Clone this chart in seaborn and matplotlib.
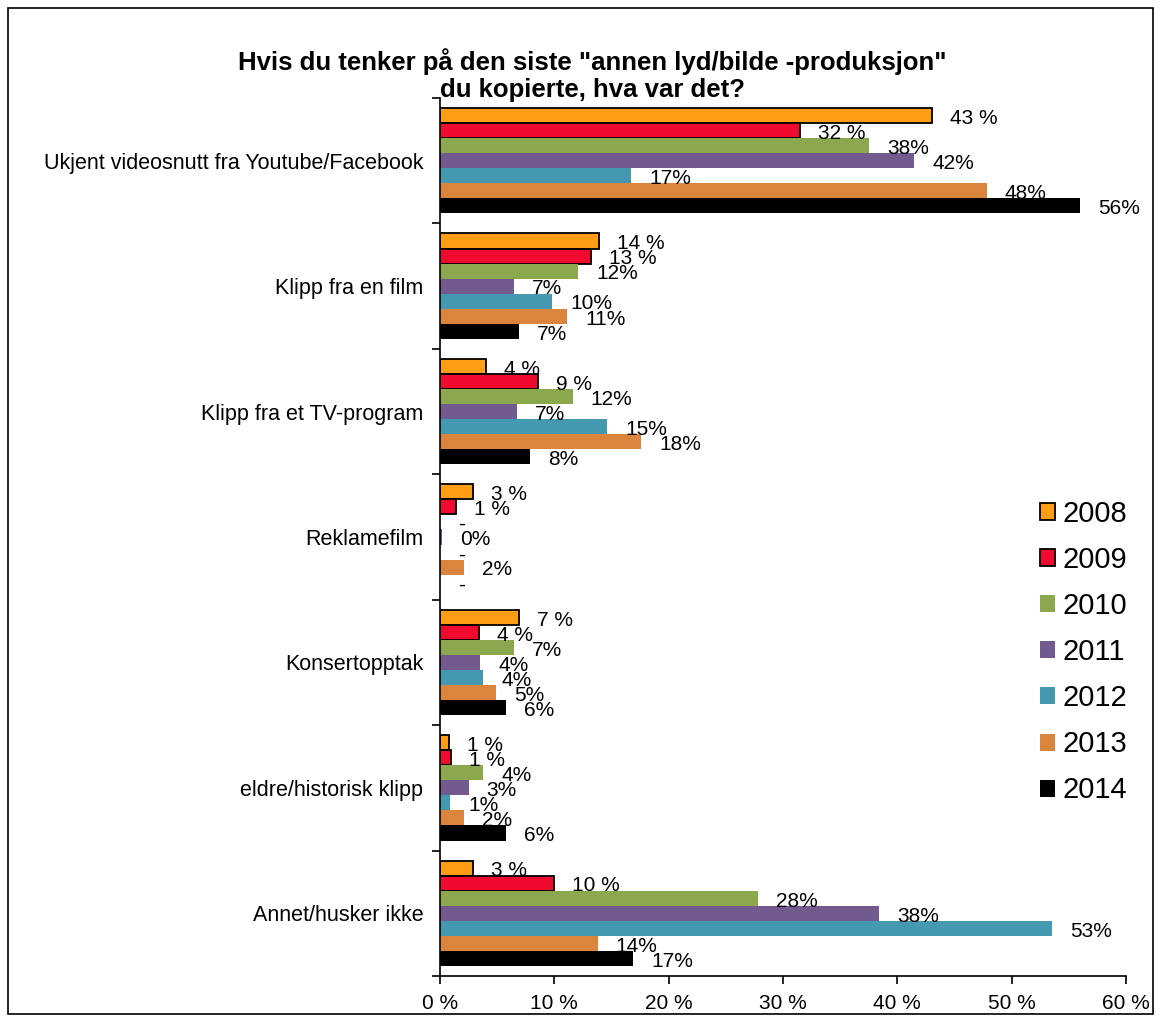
import numpy as np
import pandas as pd
import matplotlib
matplotlib.use("Agg")
import matplotlib.pyplot as plt
import seaborn as sns
from matplotlib.patches import Rectangle, Patch

# ---------------- data ----------------
categories = [
    "Ukjent videosnutt fra Youtube/Facebook",
    "Klipp fra en film",
    "Klipp fra et TV-program",
    "Reklamefilm",
    "Konsertopptak",
    "eldre/historisk klipp",
    "Annet/husker ikke",
]
years = ["2008", "2009", "2010", "2011", "2012", "2013", "2014"]

v2008 = [43.0, 13.9, 4.0, 2.9, 6.9, 0.8, 2.9]
v2009 = [31.5, 13.2, 8.6, 1.4, 3.4, 1.0, 10.0]
v2010 = [37.5, 12.1, 11.6, None, 6.5, 3.8, 27.8]
v2011 = [41.5, 6.5, 6.7, 0.2, 3.5, 2.5, 38.4]
v2012 = [16.7, 9.8, 14.6, None, 3.8, 0.9, 53.5]
v2013 = [47.8, 11.1, 17.6, 2.1, 4.9, 2.1, 13.8]
v2014 = [56.0, 6.9, 7.9, None, 5.8, 5.8, 16.9]

lab2008 = ["43 %", "14 %", "4 %", "3 %", "7 %", "1 %", "3 %"]
lab2009 = ["32 %", "13 %", "9 %", "1 %", "4 %", "1 %", "10 %"]
lab2010 = ["38%", "12%", "12%", "-", "7%", "4%", "28%"]
lab2011 = ["42%", "7%", "7%", "0%", "4%", "3%", "38%"]
lab2012 = ["17%", "10%", "15%", "-", "4%", "1%", "53%"]
lab2013 = ["48%", "11%", "18%", "2%", "5%", "2%", "14%"]
lab2014 = ["56%", "7%", "8%", "-", "6%", "6%", "17%"]

colors = ["#FF9E14", "#F00A30", "#8BA84E", "#735A8E", "#4499B0", "#DB843D", "#000000"]

xticks = [0, 10, 20, 30, 40, 50, 60]
xticklabels = ["0 %", "10 %", "20 %", "30 %", "40 %", "50 %", "60 %"]

title = 'Hvis du tenker på den siste "annen lyd/bilde -produksjon"\ndu kopierte, hva var det?'

# ---------------- build table ----------------
values = [v2008, v2009, v2010, v2011, v2012, v2013, v2014]
labels = [lab2008, lab2009, lab2010, lab2011, lab2012, lab2013, lab2014]
rows = []
for y, vals in zip(years, values):
    for c, v in zip(categories, vals):
        rows.append({"category": c, "year": y, "value": np.nan if v is None else v})
df = pd.DataFrame(rows)
df["plotvalue"] = df["value"].fillna(0.0)

# ---------------- style ----------------
sns.set_theme(style="white")
plt.rcParams["font.family"] = ["Liberation Sans", "DejaVu Sans"]
for k in ["text.color", "axes.labelcolor", "xtick.color", "ytick.color"]:
    plt.rcParams[k] = "black"

W, H = 1161, 1019
fig = plt.figure(figsize=(W / 100, H / 100), dpi=100)
ax = fig.add_axes([440 / W, 1 - 976 / H, (1126 - 440) / W, (976 - 98) / H])

sns.barplot(
    data=df, x="plotvalue", y="category", hue="year",
    order=categories, hue_order=years,
    palette=dict(zip(years, colors)), saturation=1,
    width=0.84, orient="h", errorbar=None, legend=False, ax=ax,
)

# edges for 2008 / 2009
for i, cont in enumerate(ax.containers):
    for p in cont.patches:
        p.set_linewidth(0)
        if i < 2:
            p.set_edgecolor("black")
            p.set_linewidth(1.3)

# data labels
for i, cont in enumerate(ax.containers):
    for p in cont.patches:
        yc = p.get_y() + p.get_height() / 2
        ci = int(round(yc))
        ax.annotate(
            labels[i][ci], xy=(p.get_width(), yc), xytext=(13, -2),
            textcoords="offset points", ha="left", va="center",
            fontsize=15, color="black",
        )

# axes
ax.set_xlim(0, 60)
ax.set_ylim(6.5, -0.5)
ax.set_xlabel("")
ax.set_ylabel("")
ax.set_xticks(xticks)
ax.set_xticklabels(xticklabels, fontsize=15)
ax.set_yticks(range(len(categories)))
ax.set_yticklabels(categories, fontsize=15.5)
ax.set_yticks(np.arange(-0.5, len(categories), 1.0), minor=True)
ax.tick_params(axis="y", which="major", length=0, pad=12)
ax.tick_params(axis="y", which="minor", length=6, width=1.2, direction="out", color="black", left=True)
ax.tick_params(axis="x", which="major", length=6, width=1.2, direction="out", color="black", bottom=True, pad=7)
for s in ["top", "right"]:
    ax.spines[s].set_visible(False)
for s in ["left", "bottom"]:
    ax.spines[s].set_color("black")
    ax.spines[s].set_linewidth(1.2)
ax.grid(False)

# title
fig.text(592 / W, 1 - 75 / H, title, ha="center", va="center",
         fontsize=18.5, fontweight="bold", linespacing=1.15, color="black")

# legend
handles = []
for i, c in enumerate(colors):
    if i < 2:
        handles.append(Patch(facecolor=c, edgecolor="black", linewidth=1.3))
    else:
        handles.append(Patch(facecolor=c, edgecolor="none"))
fig.legend(handles, years, loc="upper left", bbox_to_anchor=(1040 / W, 1 - 500 / H),
           frameon=False, fontsize=21, handlelength=0.52, handleheight=0.52,
           handletextpad=0.25, labelspacing=0.62, borderpad=0, borderaxespad=0)

# outer border
fig.add_artist(Rectangle((8 / W, 1 - 1014 / H), (1153 - 8) / W, (1014 - 8) / H,
                         transform=fig.transFigure, fill=False, ec="black", lw=1.2))

fig.savefig("out.png", dpi=100, facecolor="white")
